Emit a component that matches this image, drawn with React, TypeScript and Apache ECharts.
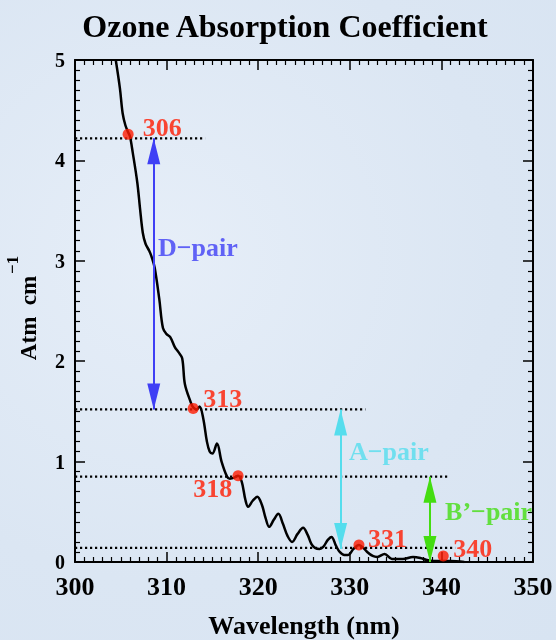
import React, { useEffect, useRef } from "react";
import * as echarts from "echarts";

const wavelength = [
  304.45, 304.9, 305.2, 305.5, 305.8, 306.0, 306.3, 306.8, 307.1, 307.4, 307.7, 308.1, 308.4, 308.7,
  309.2, 309.6, 310.0, 310.4, 310.9, 311.3, 311.7, 312.0, 312.6, 312.9, 313.3, 313.6, 314.0, 314.4,
  314.7, 315.0, 315.5, 316.0, 316.6, 316.9, 317.4, 317.8, 318.2, 318.6, 318.9, 319.4, 319.9, 320.4,
  320.8, 321.2, 321.7, 322.2, 322.7, 323.2, 323.7, 324.3, 324.9, 325.4, 325.8, 326.2, 326.7, 327.1,
  327.6, 328.0, 328.5, 328.9, 329.4, 329.8, 330.4, 331.0, 331.5, 331.9, 332.5, 333.0, 333.8, 334.6,
  335.8, 336.9, 337.7, 338.4, 339.1, 340.2, 341.0, 342.5,
];
const absorption = [
  5.0, 4.72, 4.47, 4.35, 4.28, 4.24, 4.08, 3.78, 3.52, 3.28, 3.17, 3.1, 3.03, 2.93,
  2.62, 2.33, 2.27, 2.24, 2.14, 2.09, 2.03, 1.77, 1.6, 1.54, 1.52, 1.55, 1.43, 1.2,
  1.1, 1.08, 1.18, 1.0, 0.85, 0.83, 0.84, 0.86, 0.8, 0.62, 0.55, 0.61, 0.65, 0.57,
  0.44, 0.35, 0.42, 0.48, 0.38, 0.26, 0.2, 0.28, 0.34, 0.27, 0.18, 0.14, 0.13, 0.15,
  0.22, 0.25, 0.16, 0.1, 0.07, 0.07, 0.13, 0.17, 0.14, 0.1, 0.06, 0.05, 0.08, 0.03,
  0.03, 0.05, 0.04, 0.02, 0.01, 0.01, 0.01, 0.0,
];

const pointWl = [305.8, 312.9, 317.8, 331.0, 340.2];
const pointVal = [4.26, 1.53, 0.86, 0.17, 0.06];
const pointText = ["306", "313", "318", "331", "340"];
const pointLabelWl = [307.4, 314.0, 312.9, 332.0, 341.3];
const pointLabelVal = [4.33, 1.63, 0.73, 0.23, 0.13];

const levelVal = [4.22, 1.52, 0.85, 0.14];
const levelEndWl = [314.2, 331.7, 340.7, 341.5];

const pairText = ["D\u2212pair", "A\u2212pair", "B\u2019\u2212pair"];
const pairColor = ["#3f3ff5", "#55dded", "#44dd11"];
const pairLabelWl = [309.05, 329.9, 340.4];
const pairLabelVal = [3.13, 1.1, 0.5];
const arrowWl = [308.6, 329.0, 338.75];
const arrowTop = [4.22, 1.52, 0.85];
const arrowBottom = [1.52, 0.13, 0.0];

const xTicks = [300, 350, 10];
const yTicks = [0, 5, 1];

const SERIF = "'Liberation Serif', 'DejaVu Serif', serif";
const RED = "#ff1a00";

export default function App() {
  const ref = useRef<HTMLDivElement>(null);
  useEffect(() => {
    if (!ref.current) return;
    const chart = echarts.init(ref.current, null, { renderer: "svg" });
    const axisCommon = (show: boolean, margin: number, fontSize: number) => ({
      type: "value" as const,
      axisLine: { show: true, onZero: false, lineStyle: { color: "#000", width: 2 } },
      axisTick: { show: true, inside: true, length: 10, lineStyle: { color: "#000", width: 1.5 } },
      minorTick: { show: true, splitNumber: 10, length: 5, lineStyle: { color: "#000", width: 1.2 } },
      splitLine: { show: false },
      axisLabel: {
        show,
        color: "#000",
        fontFamily: SERIF,
        fontWeight: "bold" as const,
        fontSize,
        lineHeight: 18,
        margin,
      },
    });
    const series: any[] = [];
    series.push({
      type: "line",
      data: wavelength.map((w, i) => [w, absorption[i]]),
      smooth: 0.35,
      symbol: "none",
      lineStyle: { color: "#000", width: 2.5 },
      z: 3,
    });
    levelVal.forEach((v, i) => {
      series.push({
        type: "line",
        data: [
          [xTicks[0], v],
          [levelEndWl[i], v],
        ],
        symbol: "none",
        lineStyle: { color: "#000", width: 2.2, type: [2.2, 2.8] },
        z: 2,
      });
    });
    arrowWl.forEach((w, i) => {
      series.push({
        type: "line",
        data: [],
        markLine: {
          silent: true,
          symbol: ["triangle", "triangle"],
          symbolSize: [13, 26],
          symbolOffset: [
            [0, 13],
            [0, 13],
          ],
          label: { show: false },
          lineStyle: { color: pairColor[i], width: 2, type: "solid" },
          data: [[{ coord: [w, arrowTop[i]] }, { coord: [w, arrowBottom[i]] }]],
        },
        z: 4,
      });
    });
    series.push({
      type: "scatter",
      data: pointWl.map((w, i) => [w, pointVal[i]]),
      symbolSize: 11,
      itemStyle: { color: RED },
      z: 5,
    });
    series.push({
      type: "scatter",
      data: pointLabelWl.map((w, i) => [w, pointLabelVal[i], pointText[i]]),
      symbolSize: 0,
      label: {
        show: true,
        position: "right",
        distance: 0,
        formatter: (p: any) => p.value[2],
        color: RED,
        fontFamily: SERIF,
        fontWeight: "bold",
        fontSize: 26,
      },
      z: 6,
    });
    pairText.forEach((t, i) => {
      series.push({
        type: "scatter",
        data: [[pairLabelWl[i], pairLabelVal[i], t]],
        symbolSize: 0,
        label: {
          show: true,
          position: "right",
          distance: 0,
          formatter: (p: any) => p.value[2],
          color: pairColor[i],
          fontFamily: SERIF,
          fontWeight: "bold",
          fontSize: 26,
        },
        z: 6,
      });
    });

    chart.setOption({
      animation: false,
      backgroundColor: "transparent",
      title: {
        text: "Ozone Absorption Coefficient",
        left: 280,
        textAlign: "center",
        top: 5,
        textStyle: { fontFamily: SERIF, fontWeight: "bold", fontSize: 32, color: "#000" },
      },
      grid: { left: 75, right: 23, top: 60, bottom: 78, outerBoundsMode: "none", containLabel: false },
      xAxis: [
        {
          ...axisCommon(true, 15, 26),
          position: "bottom",
          min: xTicks[0],
          max: xTicks[1],
          interval: xTicks[2],
          name: "Wavelength (nm)",
          nameLocation: "middle",
          nameGap: 50,
          nameTextStyle: { fontFamily: SERIF, fontWeight: "bold", fontSize: 26, color: "#000" },
        },
        {
          ...axisCommon(false, 10, 26),
          position: "top",
          min: xTicks[0],
          max: xTicks[1],
          interval: xTicks[2],
        },
      ],
      yAxis: [
        {
          ...axisCommon(true, 10, 20),
          position: "left",
          min: yTicks[0],
          max: yTicks[1],
          interval: yTicks[2],
        },
        {
          ...axisCommon(false, 10, 20),
          position: "right",
          min: yTicks[0],
          max: yTicks[1],
          interval: yTicks[2],
        },
      ],
      graphic: [
        {
          type: "group",
          x: 28,
          y: 318,
          rotation: Math.PI / 2,
          children: [
            {
              type: "text",
              x: 0,
              y: 0,
              style: {
                text: "Atm  cm",
                fontFamily: SERIF,
                fontWeight: "bold",
                fontSize: 23,
                fill: "#000",
                textAlign: "center",
                textVerticalAlign: "middle",
              },
            },
            {
              type: "text",
              x: 44,
              y: -16,
              style: {
                text: "\u22121",
                fontFamily: SERIF,
                fontWeight: "bold",
                fontSize: 17,
                fill: "#000",
                textAlign: "left",
                textVerticalAlign: "middle",
              },
            },
          ],
        },
      ],
      series,
    });
    return () => chart.dispose();
  }, []);
  return (
    <div
      ref={ref}
      style={{
        position: "fixed",
        left: 0,
        top: 0,
        width: 556,
        height: 640,
        background: "radial-gradient(ellipse at 30% 40%, #e6eef8 0%, #dbe6f3 60%, #d8e4f2 100%)",
      }}
    />
  );
}
